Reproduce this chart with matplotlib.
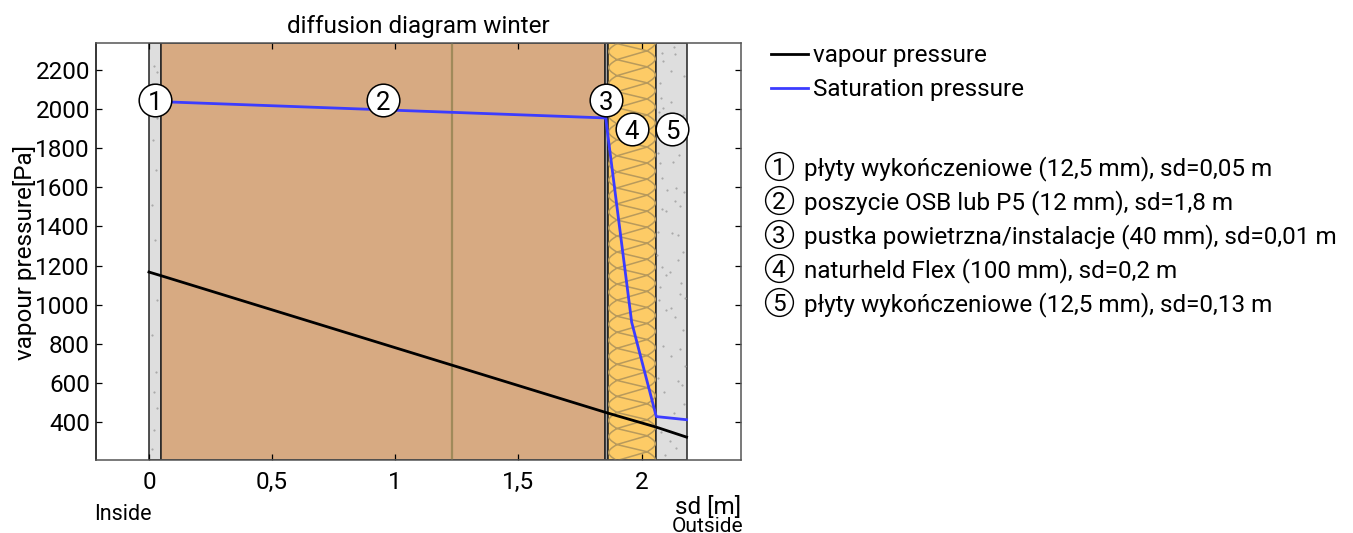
import matplotlib
matplotlib.use('Agg')
import matplotlib.pyplot as plt
import numpy as np
from matplotlib.patches import Rectangle

plt.rcParams['font.family'] = ['Roboto', 'DejaVu Sans']

W, H = 1353, 533
FS = 17.5

# layer boundaries in sd [m]
layer_edges = [0, 0.05, 1.85, 1.863, 2.06, 2.183]
layer_colors = ['#dedede', '#d7aa82', '#a6a6a6', '#fdcb66', '#dedede']
layer_numbers = ['1', '2', '3', '4', '5']
layer_names = ['płyty wykończeniowe (12,5 mm), sd=0,05 m',
               'poszycie OSB lub P5 (12 mm), sd=1,8 m',
               'pustka powietrzna/instalacje (40 mm), sd=0,01 m',
               'naturheld Flex (100 mm), sd=0,2 m',
               'płyty wykończeniowe (12,5 mm), sd=0,13 m']
badge_x = [0.025, 0.95, 1.856, 1.96, 2.125]
badge_y = [2045, 2045, 2045, 1898, 1898]

vapour_x = [0, 0.05, 1.85, 1.863, 2.06, 2.183]
vapour_p = [1167, 1148, 451, 446, 374, 323]
sat_x = [0, 0.05, 1.85, 1.855, 1.86, 1.96, 2.06, 2.183]
sat_p = [2041, 2038, 1955, 1955, 1900, 911, 428, 412]

xticks = [0, 0.5, 1, 1.5, 2]
xticklabels = ['0', '0,5', '1', '1,5', '2']
yticks = [400, 600, 800, 1000, 1200, 1400, 1600, 1800, 2000, 2200]

# plaster speckle, figure pixels
speck_px = [(662, 53), (674, 47), (675, 54), (663, 61), (671, 71), (660, 83), (684, 76),
            (661, 98), (671, 102), (663, 108), (659, 112), (683, 115), (658, 153), (660, 163),
            (673, 162), (679, 155), (662, 178), (667, 190), (676, 188), (684, 192), (675, 201),
            (662, 209), (666, 211), (680, 206), (658, 232), (672, 233), (678, 235), (683, 252),
            (657, 255), (670, 272), (678, 260), (662, 267), (660, 287), (666, 275), (681, 283),
            (680, 294), (671, 308), (685, 298), (659, 300), (666, 310), (675, 317), (683, 330),
            (663, 346), (680, 349), (671, 356), (685, 366), (658, 378), (678, 381), (682, 385),
            (664, 392), (684, 404), (674, 413), (661, 432), (670, 441), (676, 448), (665, 455),
            (154, 66), (157, 72), (152, 84), (157, 118), (153, 140), (156, 170), (152, 205),
            (155, 240), (157, 300), (152, 335), (156, 372), (154, 392), (157, 408), (154, 430),
            (152, 449)]

fig = plt.figure(figsize=(W / 100, H / 100), dpi=100)
ax = fig.add_axes([95.5 / W, 1 - 460 / H, (741 - 95.5) / W, (460 - 43) / H])
ax.set_xlim(-0.217, 2.404)
ax.set_ylim(206, 2338)

for i in range(5):
    ax.add_patch(Rectangle((layer_edges[i], 206), layer_edges[i + 1] - layer_edges[i], 2132,
                           facecolor=layer_colors[i], edgecolor='#222222', linewidth=1.1, zorder=1))
ax.axvline(1.229, color='#a08a5a', linewidth=1.6, zorder=1.5)

# insulation pattern
left = layer_edges[3] + 0.004
right = layer_edges[4] - 0.004
step = 82.0
r = 0.033
clip = Rectangle((layer_edges[3], 206), layer_edges[4] - layer_edges[3], 2132, transform=ax.transData)
t = np.linspace(0, np.pi, 16)
px = []
py = []
for k in range(12, -20, -1):
    y0 = 1433 + k * step
    px += list(left + r - r * np.sin(t))
    py += list(y0 + step * (1 - t / np.pi))
    px += list(right - r + r * np.sin(t))
    py += list(y0 + step * 0.55 - step * t / np.pi)
line, = ax.plot(px, py, color='#b89a5c', linewidth=1.1, zorder=1.6)
line.set_clip_path(clip)

ax.plot(sat_x, sat_p, color='#3c3cff', linewidth=2, zorder=3, label='Saturation pressure')
ax.plot(vapour_x, vapour_p, color='black', linewidth=2, zorder=3, label='vapour pressure')

ax.scatter([p[0] / W for p in speck_px], [1 - p[1] / H for p in speck_px], s=2.5,
           color='#aaaaaa', linewidths=0, transform=fig.transFigure, zorder=2)

ax.plot(badge_x, badge_y, linestyle='none', marker='o', markersize=23.5, markerfacecolor='white',
        markeredgecolor='black', markeredgewidth=1.1, zorder=4)
for bx, by, n in zip(badge_x, badge_y, layer_numbers):
    ax.text(bx, by, n, ha='center', va='center_baseline', fontsize=FS + 1, zorder=5)

ax.set_xticks(xticks)
ax.set_xticklabels(xticklabels)
ax.set_yticks(yticks)
ax.tick_params(direction='in', top=True, right=True, length=4.5, width=0.9, labelsize=FS, pad=8)
ax.tick_params(axis='y', pad=4)
for s in ax.spines.values():
    s.set_linewidth(1.1)
    s.set_color('#555555')
ax.spines['left'].set_color('black')
ax.set_title('diffusion diagram winter', fontsize=FS, pad=7)

fig.text(25 / W, 1 - 252 / H, 'vapour pressure[Pa]', rotation=90, ha='center', va='center', fontsize=FS)
fig.text(741 / W, 1 - 507 / H, 'sd [m]', ha='right', va='center', fontsize=FS)
fig.text(94 / W, 1 - 515 / H, 'Inside', ha='left', va='center', fontsize=15.5)
fig.text(743 / W, 1 - 526 / H, 'Outside', ha='right', va='center', fontsize=15)

h, l = ax.get_legend_handles_labels()
fig.legend(h[::-1], l[::-1], loc='upper left', bbox_to_anchor=(763.5 / W, 1 - 37 / H), frameon=False,
           fontsize=FS, handlelength=1.52, handletextpad=0.2, labelspacing=0.45, borderpad=0.3, borderaxespad=0)

row_y = [166, 200, 234, 268, 302]
for y, n, name in zip(row_y, layer_numbers, layer_names):
    fig.add_artist(plt.Line2D([778.5 / W], [1 - y / H], marker='o', markersize=20, markerfacecolor='white',
                              markeredgecolor='black', markeredgewidth=1, linestyle='none',
                              transform=fig.transFigure))
    fig.text(778.5 / W, 1 - y / H, n, ha='center', va='center_baseline', fontsize=FS)
    fig.text(804 / W, 1 - y / H, name, ha='left', va='center_baseline', fontsize=FS)

fig.savefig('out.png', dpi=100)
